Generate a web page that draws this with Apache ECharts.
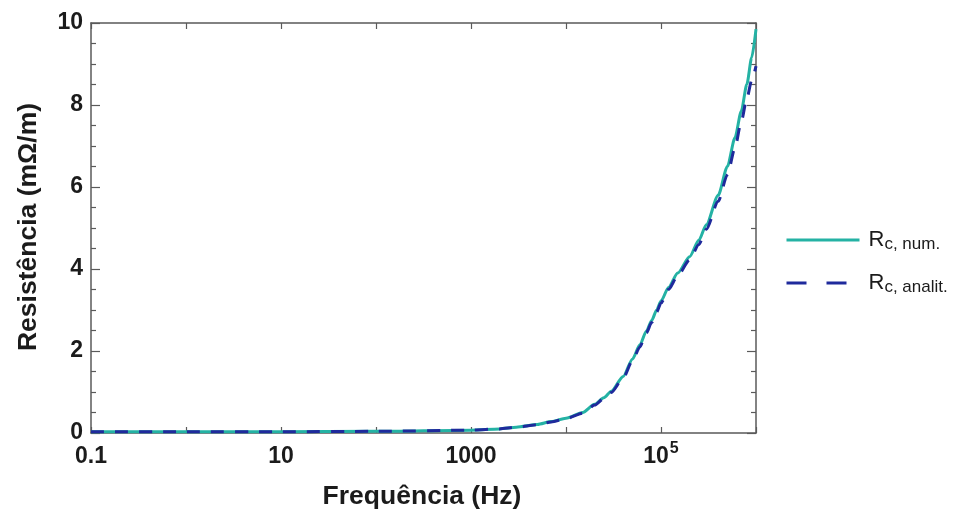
<!DOCTYPE html>
<html>
<head>
<meta charset="utf-8">
<script src="https://cdn.jsdelivr.net/npm/echarts@6/dist/echarts.min.js"></script>
<style>
html,body{margin:0;padding:0;background:#fff;}
#chart{width:967px;height:517px;}
</style>
</head>
<body>
<div id="chart"></div>
<script>
// Frequency (Hz)
const freq = [0.1, 1, 10, 100, 1000, 2000, 3000, 5000, 7000, 1e4, 1.5e4, 2e4, 2.5e4, 3e4, 4e4, 5e4, 6e4, 7e4, 8e4, 9e4, 1e5, 1.2e5, 1.5e5, 2e5, 2.5e5, 3e5, 4e5, 5e5, 6e5, 7e5, 8e5, 9e5, 1e6];
// Resistance (mOhm/m), numerical
const rNum = [0.03, 0.03, 0.03, 0.04, 0.07, 0.1, 0.14, 0.21, 0.28, 0.36, 0.5, 0.7, 0.86, 1.02, 1.38, 1.8, 2.15, 2.48, 2.75, 3.0, 3.22, 3.55, 3.9, 4.3, 4.7, 5.08, 5.8, 6.5, 7.2, 7.85, 8.5, 9.15, 9.85];
// Resistance (mOhm/m), analytical
const rAnal = [0.03, 0.03, 0.03, 0.04, 0.07, 0.1, 0.14, 0.2, 0.27, 0.35, 0.48, 0.68, 0.84, 0.99, 1.34, 1.76, 2.1, 2.44, 2.7, 2.95, 3.17, 3.5, 3.84, 4.22, 4.6, 4.97, 5.65, 6.3, 6.95, 7.6, 8.15, 8.6, 8.95];
// Tick labels on x axis (exponent -> text)
const xLabelExp = [-1, 1, 3, 5];
const xLabelText = ['0.1', '10', '1000', '{b|10}{sup|5}'];
const seriesNames = ['Rc, num.', 'Rc, analit.'];
const legendSub = ['c, num.', 'c, analit.'];
const yTitle = 'Resistência (mΩ/m)';
const xTitle = 'Frequência (Hz)';

const FONT = '"Liberation Sans", Arial, sans-serif';
const TXT = '#1b1b1b';
const AX = '#5a5a5a';
const TEAL = '#24b2a4';
const NAVY = '#1f2a9c';

const chart = echarts.init(document.getElementById('chart'), null, {renderer: 'canvas'});

const numData = freq.map((f, i) => [f, rNum[i]]);
const anaData = freq.map((f, i) => [f, rAnal[i]]);

const xBase = {
  type: 'log', logBase: 10, min: 0.1, max: 1e6, interval: 1,
  axisLine: {show: true, onZero: false, lineStyle: {color: AX, width: 1.5}},
  axisTick: {show: true, inside: true, length: 6, lineStyle: {color: AX, width: 1.2}},
  splitLine: {show: false},
  minorTick: {show: false}
};
const yBase = {
  type: 'value', min: 0, max: 10, interval: 2,
  axisLine: {show: true, onZero: false, lineStyle: {color: AX, width: 1.5}},
  axisTick: {show: true, inside: true, length: 9, lineStyle: {color: AX, width: 1.2}},
  minorTick: {show: true, splitNumber: 4, length: 5, lineStyle: {color: AX, width: 1.2}},
  splitLine: {show: false}
};

const option = {
  backgroundColor: '#ffffff',
  animation: false,
  grid: {left: 91, right: 211, top: 23, bottom: 84, containLabel: false},
  xAxis: [
    Object.assign({}, xBase, {
      position: 'bottom',
      axisLabel: {
        show: true, margin: 8, lineHeight: 32, color: TXT, fontFamily: FONT, fontWeight: 'bold', fontSize: 23,
        formatter: function (v) {
          const e = Math.round(Math.log10(v));
          const i = xLabelExp.indexOf(e);
          return i < 0 ? '' : xLabelText[i];
        },
        rich: {
          b: {fontFamily: FONT, fontWeight: 'bold', fontSize: 23, color: TXT, lineHeight: 32},
          sup: {fontFamily: FONT, fontWeight: 'bold', fontSize: 16, color: TXT, lineHeight: 20, verticalAlign: 'top', padding: [0, 0, 0, 1]}
        }
      }
    }),
    Object.assign({}, xBase, {position: 'top', axisLabel: {show: false}})
  ],
  yAxis: [
    Object.assign({}, yBase, {
      position: 'left',
      axisLabel: {show: true, margin: 8, color: TXT, fontFamily: FONT, fontWeight: 'bold', fontSize: 23}
    }),
    Object.assign({}, yBase, {position: 'right', axisLabel: {show: false}})
  ],
  legend: {
    orient: 'vertical',
    left: 785, top: 229, padding: 0,
    itemWidth: 73, itemHeight: 14, itemGap: 19,
    itemStyle: {opacity: 0},
    data: [
      {name: seriesNames[0], lineStyle: {color: TEAL, width: 3, type: 'solid'}},
      {name: seriesNames[1], lineStyle: {color: NAVY, width: 3, type: [20, 20]}}
    ],
    formatter: function (name) {
      const i = seriesNames.indexOf(name);
      return '{r|R}{s|' + legendSub[i] + '}';
    },
    textStyle: {
      color: TXT,
      rich: {
        r: {fontFamily: FONT, fontSize: 22, color: TXT, lineHeight: 26, padding: [0, 0, 0, 4]},
        s: {fontFamily: FONT, fontSize: 17, color: TXT, lineHeight: 26, verticalAlign: 'bottom'}
      }
    }
  },
  graphic: [
    {type: 'text', x: 29, y: 227, rotation: Math.PI / 2, scaleX: 1.06,
     style: {text: yTitle, fill: TXT, font: 'bold 25px ' + FONT, textAlign: 'center', textVerticalAlign: 'middle'}},
    {type: 'text', x: 422, y: 497, scaleX: 1.06,
     style: {text: xTitle, fill: TXT, font: 'bold 25px ' + FONT, textAlign: 'center', textVerticalAlign: 'middle'}}
  ],
  series: [
    {
      name: seriesNames[0], type: 'line', data: numData,
      xAxisIndex: 0, yAxisIndex: 0,
      symbol: 'none', smooth: 0.25, smoothMonotone: 'x',
      lineStyle: {color: TEAL, width: 3},
      itemStyle: {color: TEAL}, z: 2
    },
    {
      name: seriesNames[1], type: 'line', data: anaData,
      xAxisIndex: 0, yAxisIndex: 0,
      symbol: 'none', smooth: 0.25, smoothMonotone: 'x',
      lineStyle: {color: NAVY, width: 3, type: [13, 11]},
      itemStyle: {color: NAVY}, z: 3
    }
  ]
};
chart.setOption(option);
</script>
</body>
</html>
